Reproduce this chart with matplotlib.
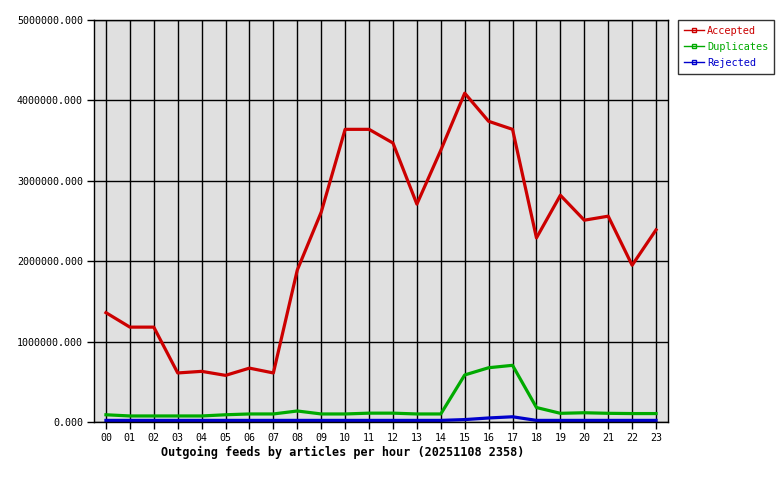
import numpy as np
import matplotlib
matplotlib.use('Agg')
import matplotlib.pyplot as plt
from matplotlib.ticker import FormatStrFormatter
from matplotlib.lines import Line2D

# hours of the day
hours = ['00', '01', '02', '03', '04', '05', '06', '07', '08', '09', '10', '11',
         '12', '13', '14', '15', '16', '17', '18', '19', '20', '21', '22', '23']

# articles per hour
accepted = [1360000, 1180000, 1180000, 610000, 630000, 580000, 670000, 610000,
            1890000, 2610000, 3640000, 3640000, 3470000, 2710000, 3380000, 4090000,
            3740000, 3640000, 2290000, 2820000, 2510000, 2560000, 1950000, 2390000]
duplicates = [90000, 75000, 75000, 75000, 75000, 90000, 100000, 100000,
              137000, 100000, 100000, 110000, 110000, 100000, 100000, 585000,
              675000, 705000, 180000, 108000, 115000, 108000, 105000, 105000]
rejected = [20000, 20000, 20000, 20000, 20000, 20000, 20000, 20000,
            20000, 20000, 20000, 20000, 20000, 20000, 20000, 30000,
            50000, 65000, 20000, 20000, 20000, 20000, 20000, 20000]

title = 'Outgoing feeds by articles per hour (20251108 2358)'

plt.rcParams['font.family'] = ['DejaVu Sans Mono']

fig = plt.figure(figsize=(7.8, 4.8), dpi=100)
ax = fig.add_axes([94 / 780, 58 / 480, 574 / 780, 402 / 480])
ax.set_facecolor('#e0e0e0')

x = np.arange(len(hours))
series = [('Accepted', accepted, '#cc0000'),
          ('Duplicates', duplicates, '#00aa00'),
          ('Rejected', rejected, '#0000cc')]
for name, vals, col in series:
    ax.plot(x, vals, color=col, lw=2.3, label=name)

ax.set_xlim(-0.5, 23.5)
ax.set_ylim(0, 5000000)
ax.set_xticks(x)
ax.set_xticklabels(hours)
ax.set_yticks(np.arange(0, 5000001, 1000000))
ax.yaxis.set_major_formatter(FormatStrFormatter('%.3f'))
ax.tick_params(labelsize=7.2, length=5, width=1, color='black', pad=3)
ax.grid(True, color='black', lw=1)
ax.set_axisbelow(True)
for s in ax.spines.values():
    s.set_color('black')
    s.set_linewidth(1)

fig.text(343 / 780, 1 - 452 / 480, title, ha='center', va='center',
         fontsize=8.5, fontweight='bold')

# legend: short line with a small hollow square in the middle
handles = [Line2D([0], [0], color=c, lw=1, marker='s', markersize=3,
                  markerfacecolor='none', markeredgecolor=c) for _, _, c in series]
leg = fig.legend(handles, [n for n, _, _ in series], loc='upper left',
                 bbox_to_anchor=(678 / 780, 460 / 480), fontsize=7.4,
                 frameon=True, fancybox=False, handlelength=2.0, handletextpad=0.3,
                 labelspacing=0.6, borderpad=0.55, borderaxespad=0)
leg.get_frame().set_edgecolor('black')
leg.get_frame().set_linewidth(1)
for t, (_, _, c) in zip(leg.get_texts(), series):
    t.set_color(c)

fig.savefig('out.png', dpi=100)
